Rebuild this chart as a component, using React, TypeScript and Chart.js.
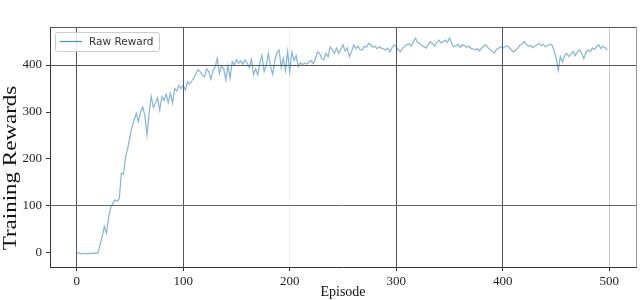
import React, { useEffect, useRef } from "react";
import { Chart, registerables } from "chart.js";

Chart.register(...registerables);

// Raw reward sampled every 2 episodes (episode 0, 2, 4, ... 498)
const rewards: number[] = [
  -1, 0, -2, -1, -1, -2, -1, -1, 0, -1,
  0, 18, 35, 56, 42, 75, 98, 105, 113, 110,
  116, 170, 168, 205, 223, 247, 269, 283, 297, 280,
  300, 311, 293, 251, 297, 333, 310, 319, 330, 304,
  333, 325, 338, 320, 340, 319, 350, 345, 357, 350,
  357, 347, 364, 360, 366, 372, 382, 390, 386, 378,
  375, 392, 386, 370, 388, 396, 414, 382, 398, 392,
  368, 399, 372, 407, 400, 411, 404, 409, 402, 411,
  405, 395, 412, 380, 392, 379, 405, 421, 386, 400,
  425, 397, 380, 410, 426, 432, 395, 415, 388, 429,
  386, 428, 410, 420, 397, 405, 401, 404, 402, 406,
  410, 403, 412, 428, 425, 414, 411, 425, 418, 439,
  432, 425, 436, 425, 433, 443, 430, 437, 418, 428,
  443, 435, 440, 433, 432, 440, 438, 446, 443, 438,
  440, 435, 439, 436, 434, 432, 436, 428, 437, 443,
  439, 432, 428, 436, 440, 443, 446, 440, 450, 457,
  448, 446, 442, 439, 436, 444, 450, 446, 440, 448,
  453, 447, 450, 453, 448, 457, 446, 439, 441, 444,
  438, 443, 441, 438, 440, 436, 434, 432, 435, 430,
  436, 440, 443, 437, 433, 430, 425, 433, 436, 439,
  436, 439, 441, 437, 432, 428, 432, 436, 442, 444,
  450, 444, 440, 442, 437, 440, 443, 446, 441, 444,
  439, 441, 444, 443, 432, 415, 389, 418, 406, 420,
  425, 418, 423, 429, 420, 428, 432, 425, 414, 427,
  432, 428, 436, 433, 439, 443, 435, 440, 437, 432,
];
const episodeStep = 2;
const xTicks = [0, 100, 200, 300, 400, 500];
const yTicks = [0, 100, 200, 300, 400];
const seriesLabel = "Raw Reward";
const xTitle = "Episode";
const yTitle = "Training Rewards";

const serif = '"Liberation Serif", "Times New Roman", serif';

const xGridColor = (v: number) => {
  if (v === 200) return "rgba(0,0,0,0.06)";
  if (v === 500) return "rgba(0,0,0,0.2)";
  return "#555";
};
const yGridColor = (v: number) => {
  if (v === 100) return "#666";
  if (v === 400) return "#555";
  return "rgba(0,0,0,0)";
};

const decorPlugin = {
  id: "decor",
  afterDraw(chart: any) {
    const { ctx, chartArea } = chart;
    ctx.save();
    // top and right frame
    ctx.strokeStyle = "#555";
    ctx.lineWidth = 1;
    ctx.beginPath();
    ctx.moveTo(chartArea.left, chartArea.top + 0.5);
    ctx.lineTo(chartArea.right, chartArea.top + 0.5);
    ctx.stroke();
    ctx.strokeStyle = "#999";
    ctx.beginPath();
    ctx.moveTo(chartArea.right + 0.5, chartArea.top);
    ctx.lineTo(chartArea.right + 0.5, chartArea.bottom);
    ctx.stroke();

    // axis titles
    ctx.fillStyle = "#111";
    ctx.textAlign = "center";
    ctx.textBaseline = "middle";
    ctx.font = `14px ${serif}`;
    ctx.fillText(xTitle, (chartArea.left + chartArea.right) / 2, 292);
    ctx.save();
    ctx.translate(11, 168);
    ctx.rotate(-Math.PI / 2);
    ctx.scale(1, 0.8);
    ctx.font = `23px ${serif}`;
    ctx.fillText(yTitle, 0, 0);
    ctx.restore();

    // legend
    const bx = chartArea.left + 5;
    const by = chartArea.top + 5;
    const bw = 104;
    const bh = 19;
    ctx.fillStyle = "rgba(255,255,255,0.85)";
    ctx.strokeStyle = "#ccc";
    ctx.lineWidth = 1;
    ctx.beginPath();
    (ctx as any).roundRect(bx + 0.5, by + 0.5, bw, bh, 2);
    ctx.fill();
    ctx.stroke();
    ctx.strokeStyle = "rgba(31,119,180,0.8)";
    ctx.lineWidth = 1.2;
    ctx.beginPath();
    ctx.moveTo(bx + 5, by + 9.5);
    ctx.lineTo(bx + 27, by + 9.5);
    ctx.stroke();
    ctx.fillStyle = "#333";
    ctx.textAlign = "left";
    ctx.font = `10.5px "DejaVu Sans", sans-serif`;
    ctx.fillText(seriesLabel, bx + 34, by + 10);
    ctx.restore();
  },
};

export default function App() {
  const ref = useRef<HTMLCanvasElement>(null);
  useEffect(() => {
    const points = rewards.map((y, i) => ({ x: i * episodeStep, y }));
    const chart = new Chart(ref.current!, {
      type: "line",
      data: {
        datasets: [
          {
            label: seriesLabel,
            data: points,
            borderColor: "rgba(31,119,180,0.55)",
            borderWidth: 1.2,
            pointRadius: 0,
            tension: 0,
            fill: false,
          },
        ],
      },
      options: {
        responsive: false,
        animation: false,
        layout: { padding: { top: 27, right: 4, left: 0, bottom: 0 } },
        plugins: { legend: { display: false }, tooltip: { enabled: false } },
        scales: {
          x: {
            type: "linear",
            min: -25,
            max: 525,
            afterBuildTicks: (s: any) => {
              s.ticks = xTicks.map((v) => ({ value: v }));
            },
            afterFit: (s: any) => {
              s.height = 33;
            },
            ticks: {
              font: { family: serif, size: 13 },
              color: "#222",
              padding: 3,
              maxRotation: 0,
              autoSkip: false,
            },
            grid: {
              color: (c: any) => xGridColor(c.tick ? c.tick.value : -1),
              tickLength: 4,
              tickColor: "#333",
              lineWidth: 1,
            },
            border: { color: "#333" },
          },
          y: {
            type: "linear",
            min: -30,
            max: 481,
            afterBuildTicks: (s: any) => {
              s.ticks = yTicks.map((v) => ({ value: v }));
            },
            afterFit: (s: any) => {
              s.width = 50;
            },
            ticks: {
              font: { family: serif, size: 13 },
              color: "#222",
              padding: 4,
              autoSkip: false,
            },
            grid: {
              color: (c: any) => yGridColor(c.tick ? c.tick.value : -1),
              tickLength: 4,
              tickColor: "#333",
              lineWidth: 1,
            },
            border: { color: "#333" },
          },
        },
      },
      plugins: [decorPlugin],
    } as any);
    return () => chart.destroy();
  }, []);
  return (
    <div
      style={{
        position: "fixed",
        left: 0,
        top: 0,
        width: 640,
        height: 300,
        background: "#fff",
      }}
    >
      <canvas ref={ref} width={640} height={300} style={{ display: "block" }} />
    </div>
  );
}
